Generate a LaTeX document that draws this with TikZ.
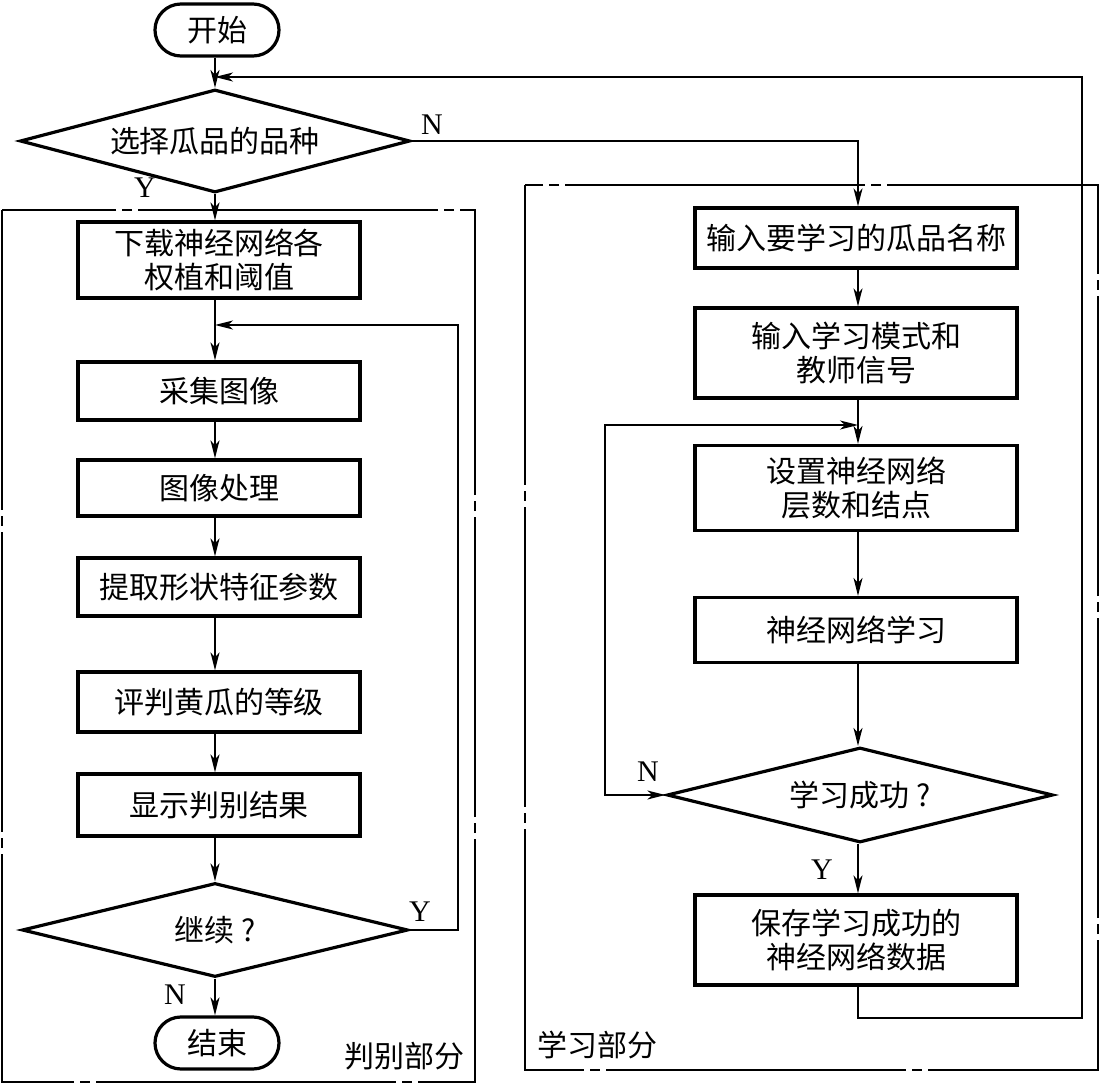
\documentclass[tikz,border=0pt]{standalone}
\usepackage{fontspec}
\setmainfont{Liberation Serif}
\newfontfamily\cjk{Noto Sans CJK SC}
\usetikzlibrary{arrows.meta, shapes.geometric}

\begin{document}
\begin{tikzpicture}[x=0.5pt, y=-0.5pt, line width=0.8pt,
    font=\cjk\fontsize{15}{17}\selectfont,
    flow/.style={-{Stealth[length=9pt, width=4.5pt, inset=2.5pt]}},
    box/.style={draw, line width=1.6pt, minimum width=141pt, minimum height=29pt, align=center, inner sep=2pt},
    rbox/.style={box, minimum width=161pt},
    term/.style={draw, line width=1.6pt, rounded corners=13pt, minimum width=62pt, minimum height=26pt},
    test/.style={draw, diamond, line width=1.6pt, aspect=3.8, inner sep=0pt},
    part/.style={line width=1.1pt, dash pattern=on 150pt off 3pt on 5pt off 3pt},
    yn/.style={font=\fontsize{15}{17}\selectfont\rmfamily}]
    \useasboundingbox (0,0) rectangle (1100,1086);
    % frames
    \draw[part] (2,210) rectangle (475,1082);
    \draw[part] (525,185) rectangle (1098,1070);
    \node[anchor=south east] (judgetag) at (472,1078) {判别部分};
    \node[anchor=south west] (learntag) at (530,1066) {学习部分};
    % left column
    \node[term] (start) at (217,30) {开始};
    \node[test, minimum width=195pt, minimum height=51.5pt] (kind) at (215,141) {选择瓜品的品种};
    \node[box, minimum height=38pt] (load) at (219,260) {下载神经网络各\\权植和阈值};
    \node[box] (grab) at (219,391) {采集图像};
    \node[box, minimum height=28pt] (proc) at (219,488) {图像处理};
    \node[box] (shape) at (219,587) {提取形状特征参数};
    \node[box, minimum height=30pt] (grade) at (219,702) {评判黄瓜的等级};
    \node[box, minimum height=31pt] (show) at (219,805) {显示判别结果};
    \node[test, minimum width=193pt, minimum height=47pt] (more) at (215,930) {继续 ?};
    \node[term] (stop) at (217,1043) {结束};
    % right column
    \node[rbox, minimum height=30pt] (name) at (856,238) {输入要学习的瓜品名称};
    \node[rbox, minimum height=45pt] (pattern) at (856,353) {输入学习模式和\\教师信号};
    \node[rbox, minimum height=42.5pt] (setup) at (856,488) {设置神经网络\\层数和结点};
    \node[rbox, minimum height=32.5pt] (train) at (856,630) {神经网络学习};
    \node[test, minimum width=193pt, minimum height=47.5pt] (ok) at (860,795) {学习成功 ?};
    \node[rbox, minimum height=45pt] (save) at (856,940) {保存学习成功的\\神经网络数据};
    \coordinate (top) at (215,77);
    \coordinate (again) at (215,325);
    \coordinate (retry) at (858,425);
    % connectors
    \draw[flow] (start.south -| kind.north) -- (kind.north);
    \draw[flow] (kind.south) -- (kind.south |- load.north);
    \draw (kind.south |- load.south) -- (again);
    \draw[flow] (again) -- (again |- grab.north);
    \draw[flow] (again |- grab.south) -- (again |- proc.north);
    \draw[flow] (again |- proc.south) -- (again |- shape.north);
    \draw[flow] (again |- shape.south) -- (again |- grade.north);
    \draw[flow] (again |- grade.south) -- (again |- show.north);
    \draw[flow] (again |- show.south) -- (more.north);
    \draw[flow] (more.south) -- (more.south |- stop.north);
    \draw[flow] (more.east) -- (458,930) -- (458,325) -- (again);
    \draw[flow] (kind.east) -- (retry |- kind.east) -- (retry |- name.north);
    \draw[flow] (retry |- name.south) -- (retry |- pattern.north);
    \draw (retry |- pattern.south) -- (retry);
    \draw[flow] (retry) -- (retry |- setup.north);
    \draw[flow] (retry |- setup.south) -- (retry |- train.north);
    \draw[flow] (retry |- train.south) -- (retry |- ok.north);
    \draw[flow] (retry |- ok.south) -- (retry |- save.north);
    \draw[{Stealth[length=9pt, width=4.5pt, inset=2.5pt]}-{Stealth[length=9pt, width=4.5pt, inset=2.5pt]}] (ok.west) -- (605,795) -- (605,425) -- (retry);
    \draw[flow] (retry |- save.south) -- (858,1018) -- (1082,1018) -- (1082,77) -- (top);
    % branch labels
    \node[yn] (y1) at (145,188) {Y};
    \node[yn] (n1) at (432,125) {N};
    \node[yn] (y2) at (420,912) {Y};
    \node[yn] (n2) at (175,995) {N};
    \node[yn] (n3) at (648,772) {N};
    \node[yn] (y3) at (822,870) {Y};
\end{tikzpicture}
\end{document}
